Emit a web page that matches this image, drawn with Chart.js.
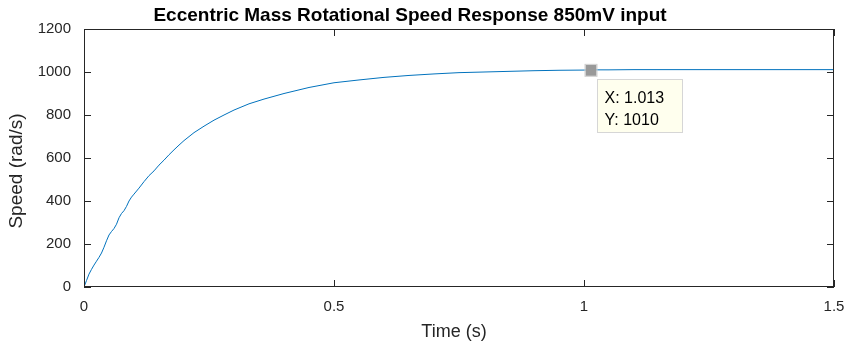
<!DOCTYPE html>
<html>
<head>
<meta charset="utf-8">
<script src="https://cdn.jsdelivr.net/npm/chart.js@4.4.0/dist/chart.umd.min.js"></script>
<style>
html,body{margin:0;padding:0;background:#fff;}
#wrap{width:845px;height:345px;position:relative;}
</style>
</head>
<body>
<div id="wrap"><canvas id="c" width="845" height="345"></canvas></div>
<script>
// ---- data ----
const timeS = [0, 0.005, 0.01, 0.015, 0.02, 0.025, 0.03, 0.035, 0.04, 0.045, 0.05, 0.055, 0.06, 0.065, 0.07, 0.075, 0.08, 0.085, 0.09, 0.095, 0.1, 0.11, 0.12, 0.13, 0.14, 0.15, 0.16, 0.17, 0.18, 0.19, 0.2, 0.22, 0.24, 0.26, 0.28, 0.3, 0.33, 0.36, 0.4, 0.45, 0.5, 0.55, 0.6, 0.65, 0.7, 0.75, 0.8, 0.85, 0.9, 0.95, 1.0, 1.013, 1.05, 1.1, 1.2, 1.3, 1.4, 1.5];
const speedRadS = [0, 30, 60, 82, 102, 120, 138, 158, 185, 215, 242, 258, 272, 292, 322, 342, 355, 375, 400, 418, 432, 460, 490, 518, 540, 567, 590, 615, 638, 660, 681, 718, 748, 776, 800, 823, 852, 874, 900, 928, 950, 963, 975, 984, 991, 997, 1000, 1003, 1006, 1008, 1009, 1010, 1010, 1011, 1011, 1011, 1011, 1011];
const xTicks = [0, 0.5, 1, 1.5];
const yTicks = [0, 200, 400, 600, 800, 1000, 1200];
const tipPoint = {x: 1.013, y: 1010};
const titleText = 'Eccentric Mass Rotational Speed Response 850mV input';
const xLabel = 'Time (s)';
const yLabel = 'Speed (rad/s)';

const points = timeS.map((t, i) => ({x: t, y: speedRadS[i]}));
const FONT = '"Liberation Sans", Arial, Helvetica, sans-serif';
const AX = '#262626';

const decor = {
  id: 'decor',
  afterDatasetsDraw(chart) {
    const ctx = chart.ctx, a = chart.chartArea;
    const xs = chart.scales.x, ys = chart.scales.y;
    ctx.save();
    // box
    ctx.strokeStyle = AX; ctx.lineWidth = 1;
    ctx.strokeRect(Math.round(a.left) + 0.5, Math.round(a.top) + 0.5, Math.round(a.right - a.left) - 1, Math.round(a.bottom - a.top) - 1);
    // ticks inward on all sides
    const tl = 7;
    ctx.beginPath();
    xTicks.forEach(v => {
      const px = Math.round(xs.getPixelForValue(v)) + 0.5;
      ctx.moveTo(px, a.bottom); ctx.lineTo(px, a.bottom - tl);
      ctx.moveTo(px, a.top); ctx.lineTo(px, a.top + tl);
    });
    yTicks.forEach(v => {
      const py = Math.round(ys.getPixelForValue(v)) + 0.5;
      ctx.moveTo(a.left, py); ctx.lineTo(a.left + tl, py);
      ctx.moveTo(a.right, py); ctx.lineTo(a.right - tl, py);
    });
    ctx.stroke();
    // title
    ctx.fillStyle = '#000';
    ctx.font = 'bold 19px ' + FONT;
    ctx.textAlign = 'center'; ctx.textBaseline = 'alphabetic';
    ctx.fillText(titleText, 410, 21);
    // axis labels
    ctx.fillStyle = AX;
    ctx.font = '18px ' + FONT;
    ctx.fillText(xLabel, 454, 337);
    ctx.save();
    ctx.font = '19px ' + FONT;
    ctx.translate(22, 171);
    ctx.rotate(-Math.PI / 2);
    ctx.fillText(yLabel, 0, 0);
    ctx.restore();
    // data tip marker
    const mx = xs.getPixelForValue(tipPoint.x), my = ys.getPixelForValue(tipPoint.y);
    ctx.fillStyle = '#999999';
    ctx.strokeStyle = '#cfcfcf';
    ctx.fillRect(mx - 5, my - 5, 11, 11);
    ctx.strokeRect(mx - 5.5, my - 5.5, 12, 12);
    // data tip box
    const bx = Math.round(mx + 6) + 0.5, by = Math.round(my + 9) + 0.5;
    ctx.fillStyle = '#ffffee';
    ctx.fillRect(bx, by, 85, 53);
    ctx.strokeStyle = '#d6d6d6';
    ctx.strokeRect(bx, by, 85, 53);
    ctx.fillStyle = '#000';
    ctx.font = '16px ' + FONT;
    ctx.textAlign = 'left';
    ctx.fillText('X: ' + tipPoint.x.toFixed(3), bx + 7, by + 23);
    ctx.fillText('Y: ' + tipPoint.y, bx + 7, by + 45);
    ctx.restore();
  }
};

new Chart(document.getElementById('c'), {
  type: 'line',
  data: {
    datasets: [{
      data: points,
      borderColor: '#0072BD',
      borderWidth: 1,
      pointRadius: 0,
      tension: 0,
      fill: false
    }]
  },
  options: {
    responsive: false,
    animation: false,
    events: [],
    layout: {padding: {left: 0, right: 11, top: 29, bottom: 0}},
    plugins: {legend: {display: false}, tooltip: {enabled: false}, title: {display: false}},
    scales: {
      x: {
        type: 'linear', min: 0, max: 1.5,
        afterBuildTicks: s => { s.ticks = xTicks.map(v => ({value: v})); },
        afterFit: s => { s.height = 58; s.paddingLeft = 0; s.paddingRight = 0; },
        grid: {display: false, drawTicks: false},
        border: {display: false},
        ticks: {color: AX, font: {family: FONT, size: 15}, padding: 11, maxRotation: 0,
                callback: v => String(v)}
      },
      y: {
        type: 'linear', min: 0, max: 1200,
        afterBuildTicks: s => { s.ticks = yTicks.map(v => ({value: v})); },
        afterFit: s => { s.width = 84; s.paddingTop = 0; s.paddingBottom = 0; },
        grid: {display: false, drawTicks: false},
        border: {display: false},
        ticks: {color: AX, font: {family: FONT, size: 15}, padding: 13,
                callback: v => String(v)}
      }
    }
  },
  plugins: [decor]
});
</script>
</body>
</html>
